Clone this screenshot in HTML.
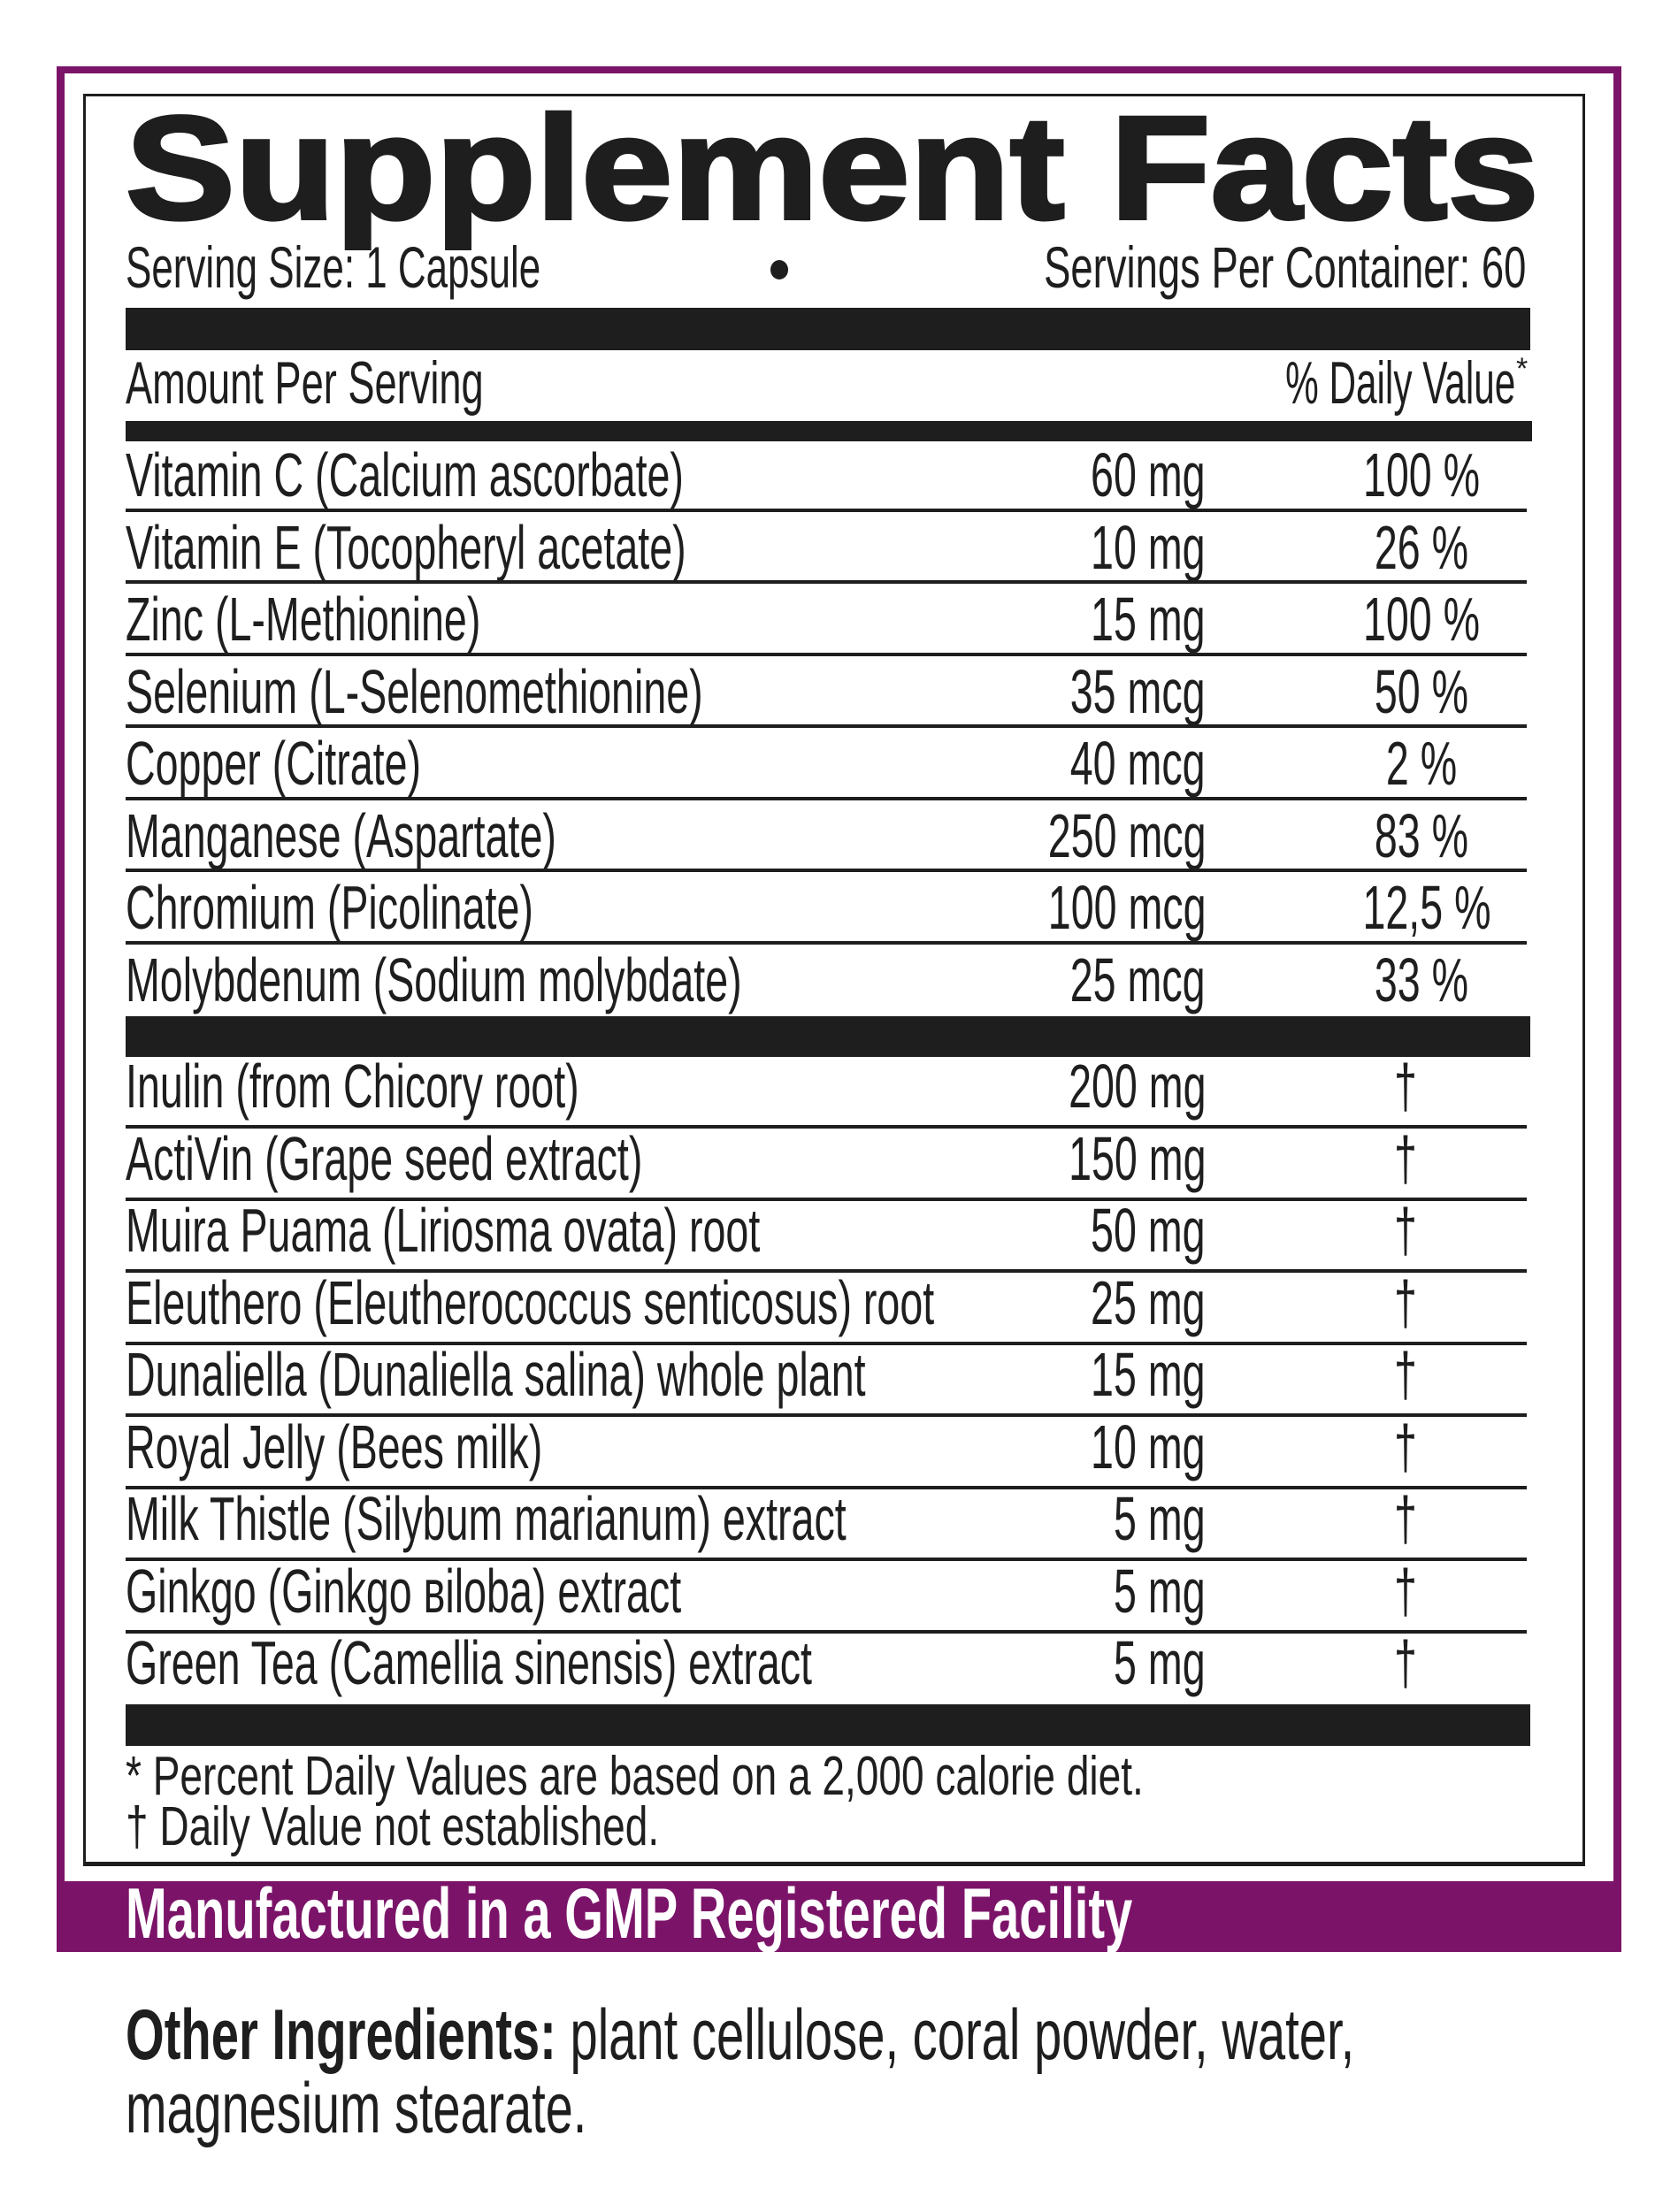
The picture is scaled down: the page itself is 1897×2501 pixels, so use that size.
<!DOCTYPE html>
<html><head><meta charset="utf-8"><style>
html,body{margin:0;padding:0;background:#fff;}
body{width:1897px;height:2501px;position:relative;overflow:hidden;font-family:"Liberation Sans",sans-serif;color:#1e1e1e;}
.a{position:absolute;white-space:nowrap;line-height:1;}
.r{font-size:70px;}
.l{transform-origin:left center;}
.ri{transform-origin:right center;}
.ce{transform-origin:center center;}
.bx{position:absolute;background:#1e1e1e;}
.ln{position:absolute;left:142px;width:1584px;height:4px;background:#1e1e1e;}
</style></head><body>
<div style="position:absolute;left:64px;top:75px;width:1769px;height:2132px;background:#7b1469;"></div>
<div style="position:absolute;left:73px;top:83px;width:1751px;height:2044px;background:#fff;"></div>
<div style="position:absolute;left:94px;top:106px;width:1692px;height:1996px;border:3px solid #1e1e1e;border-bottom-width:5px;"></div>

<div class="a l" id="title" style="left:142px;top:108px;font-size:166px;font-weight:bold;-webkit-text-stroke:4px #1e1e1e;">Supplement Facts</div>
<div class="a l" id="ss" style="left:142px;top:269px;font-size:66px;">Serving Size: 1 Capsule</div>
<div style="position:absolute;left:871px;top:294px;width:20px;height:22px;border-radius:50%;background:#1e1e1e;"></div>
<div class="a ri" id="spc" style="right:172px;top:269px;font-size:66px;">Servings Per Container: 60</div>
<div class="bx" style="left:142px;top:348px;width:1588px;height:48px;"></div>
<div class="a l" id="aps" style="left:142px;top:399px;font-size:68px;">Amount Per Serving</div>
<div class="a ri" id="dv" style="right:184px;top:399px;font-size:68px;">% Daily Value</div>
<div class="a" style="left:1714px;top:400px;font-size:34px;">*</div>
<div class="bx" style="left:142px;top:476px;width:1590px;height:23px;"></div>

<div id="rows"></div>

<div class="bx" style="left:142px;top:1149px;width:1588px;height:46px;"></div>
<div class="bx" style="left:142px;top:1927px;width:1588px;height:47px;"></div>

<div class="a l" id="f1" style="left:142px;top:1978px;font-size:62px;">* Percent Daily Values are based on a 2,000 calorie diet.</div>
<div class="a l" id="f2" style="left:142px;top:2035px;font-size:62px;">† Daily Value not established.</div>

<div class="a l" id="band" style="left:142px;top:2124px;font-size:81px;font-weight:bold;color:#fff;">Manufactured in a GMP Registered Facility</div>

<div class="a l" id="o1" style="left:142px;top:2261px;font-size:81px;"><b>Other Ingredients:</b> plant cellulose, coral powder, water,</div>
<div class="a l" id="o2" style="left:142px;top:2344px;font-size:81px;">magnesium stearate.</div>

<script>
var rows=[
["Vitamin C (Calcium ascorbate)","60 mg","100 %",561,577],
["Vitamin E (Tocopheryl acetate)","10 mg","26 %",643,658],
["Zinc (L-Methionine)","15 mg","100 %",724,740],
["Selenium (L-Selenomethionine)","35 mcg","50 %",806,821],
["Copper (Citrate)","40 mcg","2 %",887,903],
["Manganese (Aspartate)","250 mcg","83 %",969,984],
["Chromium (Picolinate)","100 mcg","12,5 %",1050,1066],
["Molybdenum (Sodium molybdate)","25 mcg","33 %",1132,0],
["Inulin (from Chicory root)","200 mg","†",1252,1274],
["ActiVin (Grape seed extract)","150 mg","†",1334,1356],
["Muira Puama (Liriosma ovata) root","50 mg","†",1415,1437],
["Eleuthero (Eleutherococcus senticosus) root","25 mg","†",1497,1519],
["Dunaliella (Dunaliella salina) whole plant","15 mg","†",1578,1600],
["Royal Jelly (Bees milk)","10 mg","†",1660,1682],
["Milk Thistle (Silybum marianum) extract","5 mg","†",1741,1763],
["Ginkgo (Ginkgo вiloba) extract","5 mg","†",1823,1845],
["Green Tea (Camellia sinensis) extract","5 mg","†",1904,0]
];
var h="";
rows.forEach(function(r,i){
 var t=r[3]-59;
 h+='<div class="a r l k" '+(i==0?'id="vc" ':'')+'style="left:142px;top:'+t+'px">'+r[0]+'</div>';
 h+='<div class="a r ri k" style="right:534px;top:'+t+'px">'+r[1]+'</div>';
 if(r[2]=="†") h+='<div class="a r ce k" style="left:1539px;width:100px;text-align:center;top:'+t+'px">†</div>';
 else h+='<div class="a r ce k" style="left:1507px;width:200px;text-align:center;top:'+t+'px">'+r[2]+'</div>';
 if(r[4]) h+='<div class="ln" style="top:'+(r[4]-2)+'px"></div>';
});
document.getElementById("rows").innerHTML=h;
function fit(id,w){var e=document.getElementById(id);var s=w/e.offsetWidth;e.style.transform="scaleX("+s+")";return s;}
var k=fit("vc",631);
if(!(k>0.3&&k<1.2))k=0.68;
document.querySelectorAll(".k").forEach(function(e){e.style.transform="scaleX("+k+")";});
fit("title",1598);
fit("ss",469);
fit("spc",545);
fit("aps",405);
fit("dv",260);
fit("f1",1151);
fit("f2",603);
fit("band",1138);
fit("o1",1389);
fit("o2",521);
</script>
</body></html>
